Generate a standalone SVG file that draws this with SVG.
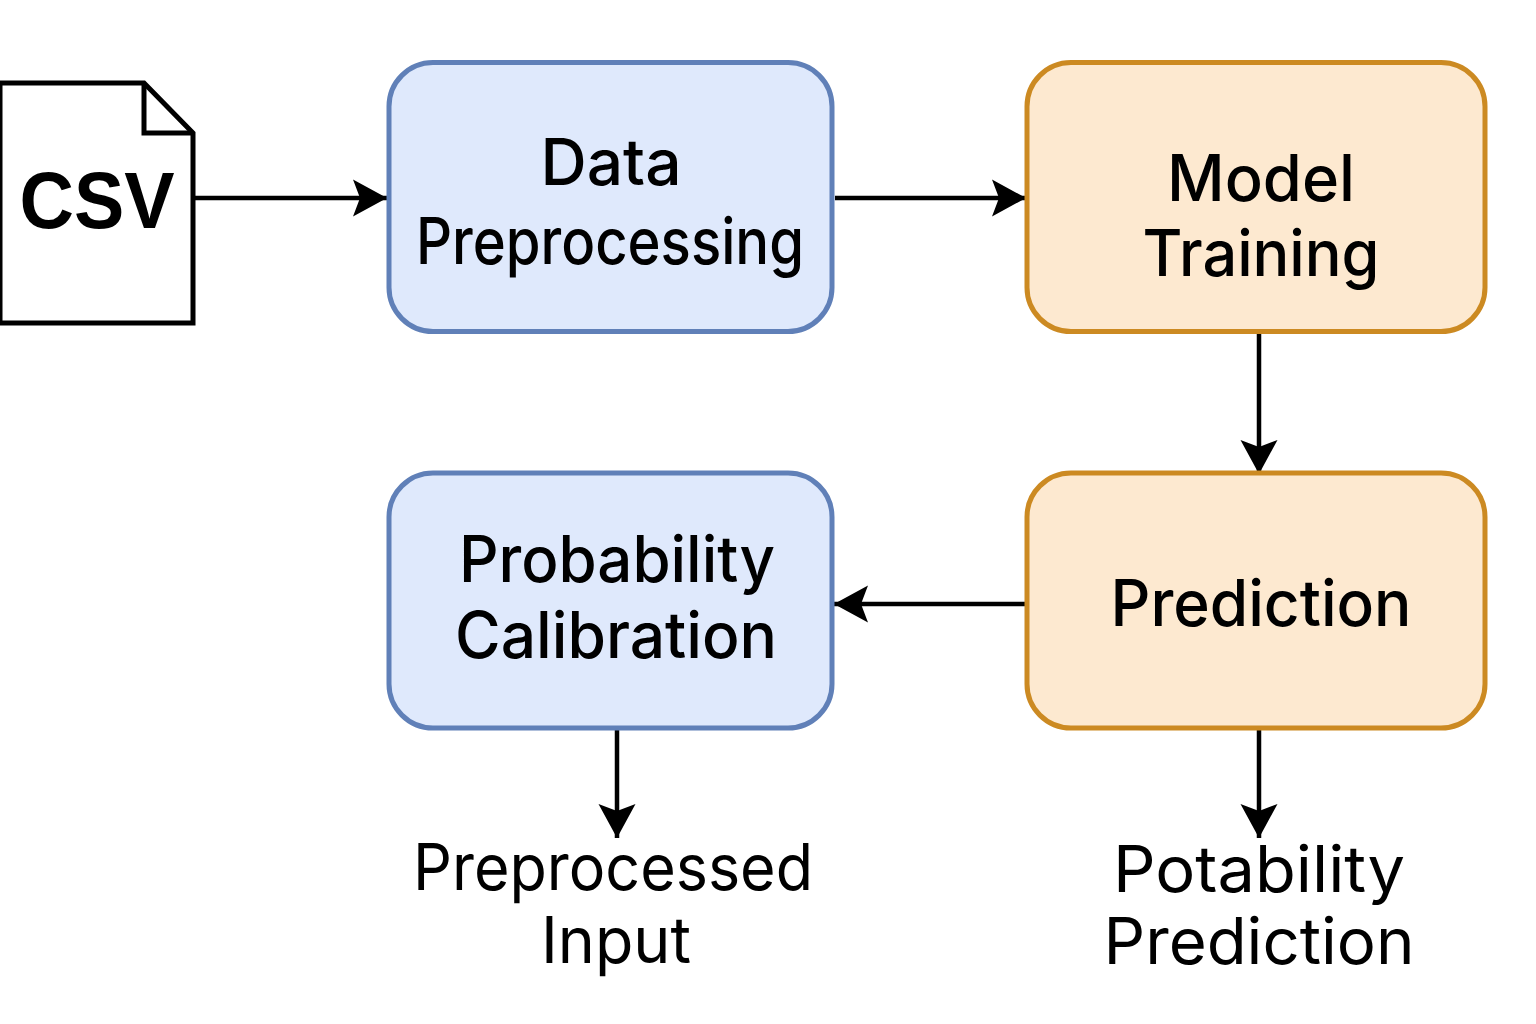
<svg xmlns="http://www.w3.org/2000/svg" width="1536" height="1024" viewBox="0 0 1536 1024">
<defs>
<marker id="arrow" markerUnits="userSpaceOnUse" markerWidth="36" markerHeight="40" refX="34" refY="19" orient="auto"><path d="M0 0.500 L34 19 L0 37.500 L7 19 Z" fill="#000"/></marker>
</defs>
<style>
text{font-family:Inter,"Liberation Sans",sans-serif;fill:#000;text-anchor:middle}
.l{font-size:64px;font-weight:500}
.o{font-size:64px;font-weight:400}
.blue{fill:#dfe9fc;stroke:#6080b8;stroke-width:5}
.orange{fill:#fde9d0;stroke:#cc8a22;stroke-width:5}
.c{fill:none;stroke:#000;stroke-width:4.500;marker-end:url(#arrow)}
</style>
<rect width="1536" height="1024" fill="#fff"/>
<g id="connectors">
<path class="c" d="M195 198H387"/>
<path class="c" d="M835 198H1026"/>
<path class="c" d="M1259 331V474"/>
<path class="c" d="M1025 604H834"/>
<path class="c" d="M617 729V838"/>
<path class="c" d="M1259 729V838"/>
</g>
<g id="csv">
<path d="M0 83H144L193 133V323H0Z" fill="#fff" stroke="#000" stroke-width="5"/>
<path d="M144 83V133H193" fill="none" stroke="#000" stroke-width="5"/>
<text x="97" y="228" style="font-family:'Liberation Sans',sans-serif" font-size="80" font-weight="700" textLength="155" lengthAdjust="spacingAndGlyphs">CSV</text>
</g>
<g id="preprocessing">
<rect class="blue" x="389" y="62.500" width="443" height="269" rx="44"/>
<text class="l" x="611" y="185" textLength="141" lengthAdjust="spacingAndGlyphs">Data</text>
<text class="l" x="610" y="264" textLength="388" lengthAdjust="spacingAndGlyphs">Preprocessing</text>
</g>
<g id="training">
<rect class="orange" x="1027" y="62.500" width="458" height="269" rx="44"/>
<text class="l" x="1261" y="201" textLength="188" lengthAdjust="spacingAndGlyphs">Model</text>
<text class="l" x="1261" y="276" textLength="237" lengthAdjust="spacingAndGlyphs">Training</text>
</g>
<g id="prediction">
<rect class="orange" x="1027" y="473" width="458" height="255" rx="44"/>
<text class="l" x="1261" y="626" textLength="301" lengthAdjust="spacingAndGlyphs">Prediction</text>
</g>
<g id="calibration">
<rect class="blue" x="389" y="473" width="443" height="255" rx="44"/>
<text class="l" x="617" y="582" textLength="316" lengthAdjust="spacingAndGlyphs">Probability</text>
<text class="l" x="616" y="658" textLength="322" lengthAdjust="spacingAndGlyphs">Calibration</text>
</g>
<g id="preprocessed-input">
<text class="o" x="613" y="890" textLength="400" lengthAdjust="spacingAndGlyphs">Preprocessed</text>
<text class="o" x="616" y="963" textLength="150" lengthAdjust="spacingAndGlyphs">Input</text>
</g>
<g id="potability-prediction">
<text class="o" x="1259" y="892" textLength="292" lengthAdjust="spacingAndGlyphs">Potability</text>
<text class="o" x="1259" y="964" textLength="311" lengthAdjust="spacingAndGlyphs">Prediction</text>
</g>
</svg>
